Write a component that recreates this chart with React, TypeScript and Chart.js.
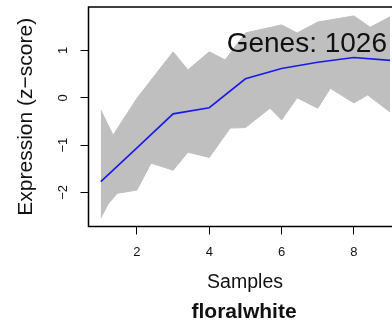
import React, { useEffect, useRef } from "react";
import { Chart, registerables } from "chart.js";

Chart.register(...registerables);

const samples = [1, 2, 3, 4, 5, 6, 7, 8, 9];
const meanExpr = [-1.77, -1.06, -0.34, -0.21, 0.4, 0.62, 0.75, 0.85, 0.79];

const bandUpperX = [1, 1.34, 2, 3, 3.41, 4, 4.44, 5, 6, 6.43, 7, 8, 8.45, 9];
const bandUpperY = [-0.26, -0.79, -0.01, 0.97, 0.59, 0.97, 0.8, 1.37, 1.54, 1.37, 1.6, 1.73, 1.49, 1.71];

const bandLowerX = [1, 1.2, 1.45, 2, 2.39, 3, 3.41, 4, 4.58, 5, 5.68, 6, 6.43, 7, 7.35, 8, 8.38, 9];
const bandLowerY = [-2.54, -2.25, -2.02, -1.95, -1.38, -1.53, -1.15, -1.26, -0.64, -0.63, -0.22, -0.47, 0.0, -0.22, 0.2, -0.11, 0.06, -0.3];

const xTicks = [2, 4, 6, 8];
const yTicks = [-2, -1, 0, 1];

const geneCountLabel = "Genes: 1026";
const xTitle = "Samples";
const yTitle = "Expression (z\u2212score)";
const moduleName = "floralwhite";

const FONT = "'Liberation Sans', Arial, Helvetica, sans-serif";
const GREY = "#bfbfbf";

const fmt = (v: number) => (v < 0 ? "\u2212" + Math.abs(v) : String(v));

export default function App() {
  const ref = useRef<HTMLCanvasElement | null>(null);

  useEffect(() => {
    if (!ref.current) return;

    const boxPlugin = {
      id: "boxAndText",
      afterDraw(chart: any) {
        const { ctx, chartArea } = chart;
        ctx.save();
        ctx.strokeStyle = "#000";
        ctx.lineWidth = 1.5;
        ctx.strokeRect(chartArea.left, chartArea.top, chartArea.right - chartArea.left, chartArea.bottom - chartArea.top);

        ctx.fillStyle = "#111";
        ctx.font = `28px ${FONT}`;
        ctx.textAlign = "right";
        ctx.textBaseline = "alphabetic";
        ctx.fillText(geneCountLabel, chartArea.right - 14.6, chartArea.top + 45);

        ctx.font = `bold 21px ${FONT}`;
        ctx.textAlign = "center";
        ctx.textBaseline = "middle";
        ctx.fillText(moduleName, (chartArea.left + chartArea.right) / 2 - 1, 312);
        ctx.restore();
      },
    };

    const chart = new Chart(ref.current, {
      type: "line",
      data: {
        datasets: [
          {
            label: "mean",
            data: samples.map((s, i) => ({ x: s, y: meanExpr[i] })),
            borderColor: "rgb(25,25,235)",
            borderWidth: 1.6,
            pointRadius: 0,
            fill: false,
            tension: 0,
          },
          {
            label: "lower",
            data: bandLowerX.map((x, i) => ({ x, y: bandLowerY[i] })),
            borderColor: GREY,
            borderWidth: 1,
            pointRadius: 0,
            fill: false,
            tension: 0,
          },
          {
            label: "upper",
            data: bandUpperX.map((x, i) => ({ x, y: bandUpperY[i] })),
            borderColor: GREY,
            backgroundColor: GREY,
            borderWidth: 1,
            pointRadius: 0,
            fill: 1,
            tension: 0,
          },
        ],
      },
      options: {
        responsive: false,
        maintainAspectRatio: false,
        devicePixelRatio: 1,
        animation: false,
        layout: { padding: { left: 0, right: 2.4, top: 7, bottom: 0 } },
        plugins: {
          legend: { display: false },
          tooltip: { enabled: false },
          title: { display: false },
        },
        scales: {
          x: {
            type: "linear",
            min: 0.66,
            max: 9.32,
            afterBuildTicks: (scale: any) => {
              scale.ticks = xTicks.map((v) => ({ value: v }));
            },
            afterFit: (scale: any) => {
              scale.height = 98.5;
              scale.paddingLeft = 0;
              scale.paddingRight = 0;
            },
            border: { display: false },
            grid: {
              display: true,
              drawOnChartArea: false,
              drawTicks: true,
              tickLength: 8,
              color: "#000",
              lineWidth: 1,
            },
            ticks: {
              padding: 9.7,
              color: "#111",
              font: { family: FONT, size: 13 },
              maxRotation: 0,
              minRotation: 0,
              autoSkip: false,
              callback: (v: any) => fmt(Number(v)),
            },
            title: {
              display: true,
              text: xTitle,
              color: "#111",
              font: { family: FONT, size: 19.5 },
              padding: { top: 0, bottom: 30.6 },
            },
          },
          y: {
            type: "linear",
            min: -2.72,
            max: 1.918,
            afterBuildTicks: (scale: any) => {
              scale.ticks = yTicks.map((v) => ({ value: v }));
            },
            afterFit: (scale: any) => {
              scale.width = 88.5;
              scale.paddingTop = 0;
              scale.paddingBottom = 0;
            },
            border: { display: false },
            grid: {
              display: true,
              drawOnChartArea: false,
              drawTicks: true,
              tickLength: 8,
              color: "#000",
              lineWidth: 1,
            },
            ticks: {
              padding: 10,
              color: "#111",
              font: { family: FONT, size: 13 },
              minRotation: 90,
              maxRotation: 90,
              crossAlign: "center",
              autoSkip: false,
              callback: (v: any) => fmt(Number(v)),
            },
            title: {
              display: true,
              text: yTitle,
              color: "#111",
              font: { family: FONT, size: 21 },
              padding: { top: 13.5, bottom: 0 },
            },
          },
        },
      },
      plugins: [boxPlugin],
    } as any);

    return () => chart.destroy();
  }, []);

  return (
    <div
      style={{
        position: "absolute",
        left: 0,
        top: 0,
        width: 392,
        height: 325,
        overflow: "hidden",
        background: "#fff",
      }}
    >
      <canvas ref={ref} width={404} height={325} style={{ display: "block", width: 404, height: 325 }} />
    </div>
  );
}
